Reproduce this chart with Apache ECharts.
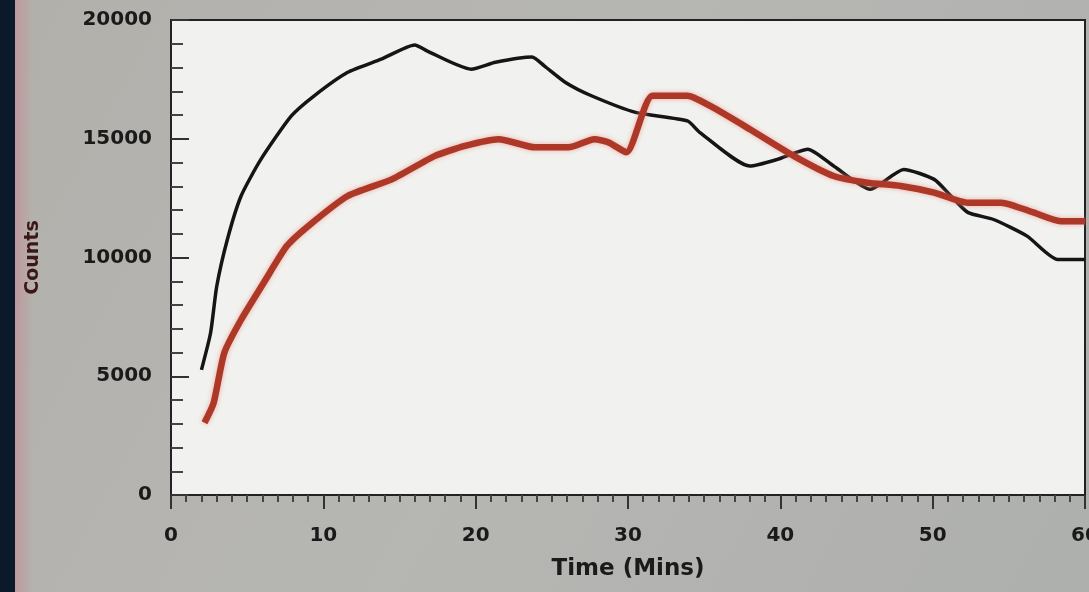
<!DOCTYPE html>
<html>
<head>
<meta charset="utf-8">
<script src="https://cdn.jsdelivr.net/npm/echarts@6/dist/echarts.min.js"></script>
<style>html,body{margin:0;padding:0;background:#b3b3b0;}#c{width:1089px;height:592px;}</style>
</head>
<body>
<div id="c"></div>
<script>
// Black trace
const blackTimes = [2.0, 2.6, 3.0, 3.7, 4.6, 5.9, 7.9, 9.4, 11.6, 13.8, 16.0, 16.8, 19.7, 21.3, 23.7, 24.5, 25.9, 27.6, 30.5, 33.9, 34.7, 38.0, 39.8, 41.8, 43.5, 45.9, 48.1, 50.1, 51.2, 52.3, 54.0, 56.2, 58.2, 60.0];
const blackCounts = [5270, 6830, 8780, 10760, 12590, 14130, 15960, 16810, 17800, 18350, 18950, 18700, 17930, 18220, 18440, 18070, 17370, 16810, 16110, 15750, 15270, 13850, 14130, 14560, 13850, 12870, 13710, 13290, 12590, 11900, 11600, 10900, 9920, 9920];
// Red trace
const redTimes = [2.2, 2.8, 3.5, 4.6, 6.1, 7.6, 9.0, 11.6, 14.5, 17.3, 19.3, 21.5, 23.9, 26.1, 27.8, 28.7, 29.9, 31.6, 33.9, 35.4, 38.0, 40.9, 43.5, 45.7, 47.9, 50.1, 52.3, 54.5, 56.6, 58.4, 60.0];
const redCounts = [3040, 3880, 5990, 7380, 8950, 10480, 11320, 12590, 13290, 14270, 14700, 14980, 14640, 14640, 14980, 14850, 14430, 16810, 16810, 16380, 15400, 14270, 13430, 13150, 13010, 12730, 12310, 12310, 11900, 11530, 11530];
const xTitle = 'Time (Mins)';
const yTitle = 'Counts';

const pairs = (ts, vs) => ts.map((t, i) => [t, vs[i]]);
const font = '"DejaVu Sans", sans-serif';

const chart = echarts.init(document.getElementById('c'));
chart.setOption({
  backgroundColor: {
    type: 'linear', x: 0, y: 0, x2: 1, y2: 1,
    colorStops: [{offset: 0, color: '#b2b0ab'}, {offset: 0.5, color: '#b6b6b3'}, {offset: 1, color: '#aeb0ad'}]
  },
  animation: false,
  graphic: [
    {type: 'rect', left: 15, top: 0, shape: {width: 18, height: 592}, silent: true,
     style: {fill: {type: 'linear', x: 0, y: 0, x2: 1, y2: 0, colorStops: [{offset: 0, color: 'rgba(190,150,155,0.9)'}, {offset: 1, color: 'rgba(190,150,155,0)'}]}}},
    {type: 'rect', left: 0, top: 0, shape: {width: 15, height: 592}, silent: true, style: {fill: '#0b1a2b'}}
  ],
  grid: {left: 171, right: 4, top: 20, bottom: 97, outerBoundsMode: 'none', containLabel: false,
         show: true, backgroundColor: '#f1f2ef', borderColor: '#222', borderWidth: 2},
  xAxis: {
    type: 'value', min: 0, max: 60, interval: 10,
    name: xTitle, nameLocation: 'middle', nameGap: 63,
    nameTextStyle: {fontFamily: font, fontWeight: 'bold', fontSize: 23, color: '#1a1a1a'},
    axisLine: {lineStyle: {color: '#222', width: 2}},
    axisTick: {show: true, inside: false, length: 14, lineStyle: {color: '#333', width: 2}},
    minorTick: {show: true, splitNumber: 10, length: 7, lineStyle: {color: '#444', width: 2}},
    splitLine: {show: false},
    axisLabel: {fontFamily: font, fontWeight: 'bold', fontSize: 20, color: '#1a1a1a', margin: 31,
                formatter: v => String(v)}
  },
  yAxis: {
    type: 'value', min: 0, max: 20000, interval: 5000,
    name: yTitle, nameLocation: 'middle', nameGap: 128,
    nameTextStyle: {fontFamily: font, fontWeight: 'bold', fontSize: 19, color: '#3d1616'},
    axisLine: {show: true, lineStyle: {color: '#222', width: 2}},
    axisTick: {show: true, inside: true, length: 18, lineStyle: {color: '#333', width: 2}},
    minorTick: {show: true, splitNumber: 5, length: 12, lineStyle: {color: '#444', width: 2}},
    splitLine: {show: false},
    axisLabel: {fontFamily: font, fontWeight: 'bold', fontSize: 20, color: '#1a1a1a', margin: 19,
                formatter: v => String(v)}
  },
  series: [
    {type: 'line', data: pairs(blackTimes, blackCounts), showSymbol: false, smooth: 0.2,
     lineStyle: {color: '#151515', width: 3.5}},
    {type: 'line', data: pairs(redTimes, redCounts), showSymbol: false, smooth: 0.2,
     lineStyle: {color: '#ad3828', width: 6.5, shadowColor: 'rgba(235,140,130,0.7)', shadowBlur: 5}}
  ]
});
</script>
</body>
</html>
